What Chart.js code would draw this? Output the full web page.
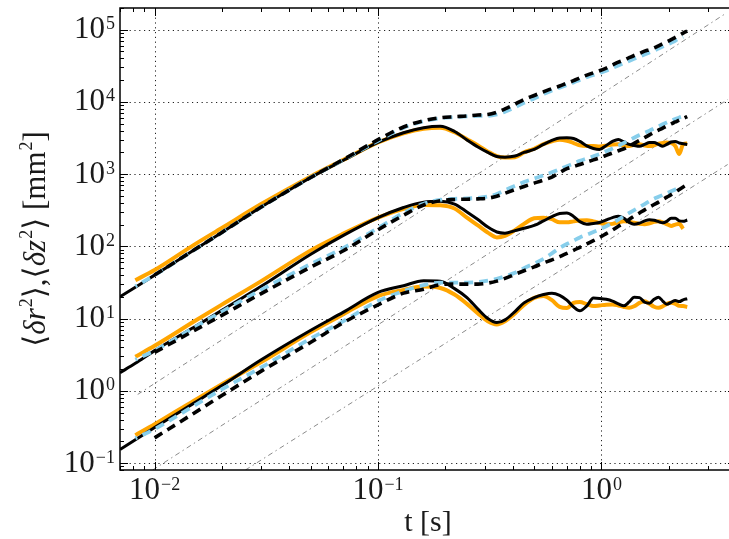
<!DOCTYPE html>
<html><head><meta charset="utf-8">
<script src="https://cdn.jsdelivr.net/npm/chart.js@4.4.1/dist/chart.umd.min.js"></script>
<style>
html,body{margin:0;padding:0;overflow:hidden;background:#fff;width:729px;height:539px}
#wrap{position:absolute;left:0;top:0;width:746px;height:539px}
canvas{display:block}
</style></head><body>
<div id="wrap"><canvas id="c" width="746" height="539"></canvas></div>
<script>
// time grid [s]
const T = [0.007, 0.0082, 0.01, 0.015, 0.02, 0.03, 0.05, 0.07, 0.1,
  0.13, 0.16, 0.19, 0.22, 0.25, 0.28, 0.31, 0.34, 0.37, 0.41,
  0.45, 0.5, 0.55, 0.6, 0.65, 0.7, 0.75, 0.8, 0.86, 0.92,
  0.98, 1.05, 1.12, 1.19, 1.26, 1.33, 1.4, 1.48, 1.56, 1.64,
  1.72, 1.8, 1.88, 1.96, 2.05, 2.14, 2.23, 2.32, 2.42];

// top group (~10^3)
const topSolidBlack = [20, 27.2, 40, 89, 156, 350, 900, 1560, 2750,
  3750, 4400, 4600, 3900, 2980, 2380, 2000, 1760, 1720, 1780,
  2000, 2200, 2580, 2930, 3170, 3190, 3120, 2840, 2460, 2270,
  2200, 2500, 2840, 3030, 2790, 2580, 2500, 2440, 2580, 2750,
  2750, 2580, 2440, 2580, 2790, 2840, 2700, 2640, 2580];
const topSolidOrange = [null, 34, 47, 105, 180, 385, 930, 1580, 2750,
  3680, 4250, 4400, 3800, 3050, 2500, 2050, 1780, 1700, 1720,
  2000, 2250, 2600, 2850, 3000, 2900, 2700, 2500, 2450, 2450,
  2420, 2480, 2580, 2600, 2500, 2450, 2550, 2600, 2500, 2450,
  2520, 2650, 2700, 2750, 2700, 2450, 1900, 2600, 2650];
const topDashBlue = [null, 28, 40, 89, 156, 350, 900, 1580, 2900,
  4400, 5400, 5950, 6150, 6300, 6400, 6400, 6700, 7300, 8400,
  9700, 11200, 12800, 14400, 15800, 17200, 18600, 20200, 22000, 23600,
  25000, 27000, 29500, 32000, 34500, 37000, 39500, 42500, 45500, 48500,
  51500, 55000, 58500, 62000, 66000, 70500, 75500, 80000, null];
const topDashBlack = [null, null, 40, 89, 156, 350, 900, 1600, 3000,
  4500, 5500, 6050, 6250, 6400, 6600, 6700, 7200, 8000, 9300,
  10800, 12300, 13800, 15300, 16600, 18200, 19700, 21500, 23500, 25300,
  27000, 29500, 32500, 35500, 38000, 41000, 44000, 47000, 50500, 53000,
  56000, 60000, 64000, 68000, 73000, 78500, 84000, 90000, 96000];

// middle group (~10^2)
const midSolidBlack = [1.78, 2.4, 3.6, 7.6, 13.0, 28, 78, 142, 250,
  345, 410, 420, 385, 300, 235, 185, 158, 152, 165,
  178, 195, 225, 258, 285, 290, 260, 220, 203, 208,
  214, 232, 250, 262, 245, 215, 202, 210, 225, 234,
  230, 220, 212, 222, 245, 245, 225, 222, 232];
const midSolidOrange = [null, 2.96, 4.2, 9.1, 15.6, 33, 88, 150, 250,
  330, 375, 370, 335, 250, 195, 155, 133, 140, 168,
  205, 245, 250, 238, 215, 215, 222, 228, 230, 222,
  212, 203, 205, 215, 222, 220, 212, 205, 202, 208,
  218, 223, 215, 203, 192, 200, 205, 175, null];
const midDashBlue = [null, 2.7, 3.6, 7.5, 12.5, 25, 57, 95, 180,
  290, 390, 440, 455, 460, 470, 490, 530, 600, 690,
  780, 870, 960, 1060, 1170, 1290, 1400, 1530, 1650, 1770,
  1900, 2080, 2270, 2480, 2700, 2950, 3200, 3480, 3750, 4000,
  4300, 4600, 4900, 5200, 5500, 5800, 6100, 6350, null];
const midDashBlack = [null, null, 3.4, 6.8, 11.1, 22.2, 51.6, 87, 170,
  270, 374, 430, 446, 450, 455, 465, 495, 545, 611,
  676, 752, 828, 912, 1050, 1190, 1275, 1360, 1470, 1575,
  1680, 1820, 1965, 2110, 2250, 2440, 2670, 2940, 3210, 3500,
  3800, 4070, 4350, 4650, 4970, 5280, 5600, 5900, 6270];

// bottom group (~10^1)
const botSolidBlack = [0.154, 0.21, 0.31, 0.675, 1.18, 2.69, 6.9, 12.3, 23,
  28.5, 33.5, 33, 26, 19.5, 13.5, 10, 8.8, 9.6, 12.5,
  16.5, 19.5, 21.5, 22.5, 21, 18, 14.5, 12.8, 15, 19.2,
  19, 18.5, 17.5, 16, 15, 17, 19.8, 19.5, 16.8, 16.3,
  18.5, 19.8, 17.5, 15.8, 16.8, 17.8, 17.2, 18.2, 18.8];
const botSolidOrange = [null, 0.243, 0.343, 0.73, 1.23, 2.5, 6.5, 11.5, 20.5,
  25, 27.8, 26.5, 21.5, 16, 11.8, 9.2, 8.3, 9.2, 11.8,
  15.5, 19.4, 20.5, 18, 14.5, 14, 16.5, 17, 15.8, 14.9,
  15.2, 15.6, 15.7, 15.2, 14.5, 14.1, 14.8, 16.5, 17.4, 16,
  14.6, 14.1, 14.8, 16, 16.6, 16, 15, 14.9, 14.5];
const botDashBlue = [null, 0.22, 0.295, 0.62, 1.05, 2.1, 5.3, 9.2, 17.5,
  24, 29, 31.5, 31.5, 31.5, 32, 33.5, 35.5, 38.5, 43,
  50, 58, 67, 80, 95, 108, 120, 133, 145, 158,
  172, 190, 210, 235, 262, 290, 318, 350, 385, 423,
  455, 485, 515, 545, 580, 615, 650, null, null];
const botDashBlack = [null, null, 0.223, 0.49, 0.86, 1.87, 4.7, 8.8, 15.5,
  22.5, 25.5, 29.5, 30, 30, 30, 31, 33, 36, 41,
  46, 52, 59, 65, 72, 80, 88, 97, 108, 120,
  133, 150, 168, 190, 212, 236, 262, 290, 320, 350,
  380, 410, 445, 480, 520, 565, 615, 665, 720];

// grey dash-dot guide lines (end points)
const guide1T = [0.0084, 3.64], guide1Y = [0.89, 172000];
const guide2T = [0.0098, 3.67], guide2Y = [0.08, 10800];
const guide3T = [0.0255, 3.67], guide3Y = [0.08, 1360];

// axes
const X_MIN = 0.007, X_MAX = 4, Y_MIN = 0.08, Y_MAX = 2e5;
const xTickExps = [-2, -1, 0];
const yTickExps = [-1, 0, 1, 2, 3, 4, 5];
const xTitle = 't [s]';

const SERIF = '"Liberation Serif","DejaVu Serif",serif';
const ORANGE = '#FFA500', SKY = '#87CEEB', BLACK = '#000000', GREY = '#8a8a8a';

const pts = (xs, ys) => xs.map((x, i) => ({x: x, y: ys[i]}));
function line(label, ys, color, width, dash, offset) {
  return {label, data: pts(T, ys), borderColor: color, borderWidth: width,
    borderDash: dash || [], borderDashOffset: offset || 0, pointRadius: 0,
    fill: false, cubicInterpolationMode: 'monotone', spanGaps: false,
    borderCapStyle: 'butt', borderJoinStyle: 'round'};
}
function guide(label, xs, ys) {
  return {label, data: pts(xs, ys), borderColor: GREY, borderWidth: 1,
    borderDash: [5, 3.5, 1.5, 3.5], pointRadius: 0, fill: false, clip: 0};
}

const datasets = [
  line('top dashed black', topDashBlack, BLACK, 3.6, [9, 6], 0),
  line('mid dashed black', midDashBlack, BLACK, 3.6, [9, 6], 0),
  line('bot dashed black', botDashBlack, BLACK, 3.6, [9, 6], 0),
  line('top dashed blue', topDashBlue, SKY, 3.8, [9, 6], 7),
  line('mid dashed blue', midDashBlue, SKY, 3.8, [9, 6], 7),
  line('bot dashed blue', botDashBlue, SKY, 3.8, [9, 6], 7),
  line('top black', topSolidBlack, BLACK, 3),
  line('mid black', midSolidBlack, BLACK, 3),
  line('bot black', botSolidBlack, BLACK, 3),
  line('top orange', topSolidOrange, ORANGE, 4),
  line('mid orange', midSolidOrange, ORANGE, 4),
  line('bot orange', botSolidOrange, ORANGE, 4),
  guide('guide 1', guide1T, guide1Y),
  guide('guide 2', guide2T, guide2Y),
  guide('guide 3', guide3T, guide3Y)
];

function drawPow(ctx, exp, x, y, align) {
  const base = '10', es = exp < 0 ? '\u2212' + (-exp) : String(exp);
  ctx.font = '31px ' + SERIF; const wb = ctx.measureText(base).width;
  ctx.font = '18px ' + SERIF; const we = ctx.measureText(es).width;
  const tot = wb + 1 + we;
  const left = align === 'right' ? x - tot : x - tot / 2;
  ctx.textAlign = 'left'; ctx.textBaseline = 'alphabetic';
  ctx.font = '31px ' + SERIF; ctx.fillText(base, left, y);
  ctx.font = '18px ' + SERIF; ctx.fillText(es, left + wb + 1, y - 9);
}

const axesPlugin = {
  id: 'axesPlugin',
  beforeDatasetsDraw(chart) {
    const {ctx, chartArea: a, scales: {x, y}} = chart;
    ctx.save();
    ctx.strokeStyle = '#222'; ctx.lineWidth = 1; ctx.setLineDash([1.2, 3.6]);
    ctx.beginPath();
    for (const e of xTickExps) { const p = Math.round(x.getPixelForValue(Math.pow(10, e))) + 0.5; ctx.moveTo(p, a.top); ctx.lineTo(p, a.bottom); }
    for (const e of yTickExps) { const p = Math.round(y.getPixelForValue(Math.pow(10, e))) + 0.5; ctx.moveTo(a.left, p); ctx.lineTo(a.right, p); }
    ctx.stroke();
    ctx.restore();
  },
  afterDraw(chart) {
    const {ctx, chartArea: a, scales: {x, y}} = chart;
    ctx.save();
    // ticks
    ctx.strokeStyle = '#000'; ctx.lineWidth = 1; ctx.setLineDash([]);
    ctx.beginPath();
    for (let e = -3; e <= 1; e++) for (let m = 1; m <= 9; m++) {
      const v = m * Math.pow(10, e); if (v < X_MIN || v > X_MAX) continue;
      const p = Math.round(x.getPixelForValue(v)) + 0.5, L = m === 1 ? 8 : 4;
      ctx.moveTo(p, a.bottom); ctx.lineTo(p, a.bottom - L);
      ctx.moveTo(p, a.top); ctx.lineTo(p, a.top + L);
    }
    for (let e = -2; e <= 5; e++) for (let m = 1; m <= 9; m++) {
      const v = m * Math.pow(10, e); if (v < Y_MIN || v > Y_MAX) continue;
      const p = Math.round(y.getPixelForValue(v)) + 0.5, L = m === 1 ? 8 : 4;
      ctx.moveTo(a.left, p); ctx.lineTo(a.left + L, p);
      ctx.moveTo(a.right, p); ctx.lineTo(a.right - L, p);
    }
    ctx.stroke();
    // frame
    ctx.lineWidth = 1.5;
    ctx.strokeRect(a.left, a.top, a.right - a.left, a.bottom - a.top);
    // tick labels
    ctx.fillStyle = '#1a1a1a';
    for (const e of yTickExps) drawPow(ctx, e, a.left - 5, y.getPixelForValue(Math.pow(10, e)) + 8.5, 'right');
    for (const e of xTickExps) drawPow(ctx, e, x.getPixelForValue(Math.pow(10, e)), a.bottom + 28.5, 'center');
    // x title
    ctx.font = '30px ' + SERIF; ctx.textAlign = 'center';
    ctx.fillText(xTitle, (a.left + a.right) / 2, 531);
    // y title
    const segs = [['\u27E8', 'n'], ['\u03B4r', 'i'], ['2', 's'], ['\u27E9,\u27E8', 'n'], ['\u03B4z', 'i'], ['2', 's'], ['\u27E9 [mm', 'n'], ['2', 's'], [']', 'n']];
    const fnt = k => k === 'n' ? '31px ' + SERIF : k === 'i' ? 'italic 31px ' + SERIF : '18px ' + SERIF;
    let tot = 0; const ws = [];
    for (const [t, k] of segs) { ctx.font = fnt(k); const w = ctx.measureText(t).width; ws.push(w); tot += w + (k === 's' ? 1 : 0); }
    ctx.translate(45, (a.top + a.bottom) / 2); ctx.rotate(-Math.PI / 2);
    ctx.textAlign = 'left';
    let cx = -tot / 2;
    segs.forEach(([t, k], i) => { ctx.font = fnt(k); ctx.fillText(t, cx + (k === 's' ? 1 : 0), k === 's' ? -13 : 0); cx += ws[i] + (k === 's' ? 1 : 0); });
    ctx.restore();
  }
};

new Chart(document.getElementById('c'), {
  type: 'line',
  data: {datasets},
  options: {
    responsive: false, animation: false, parsing: true,
    layout: {padding: {left: 120, top: 8, right: 10, bottom: 69}},
    plugins: {legend: {display: false}, tooltip: {enabled: false}},
    scales: {
      x: {type: 'logarithmic', min: X_MIN, max: X_MAX, display: false},
      y: {type: 'logarithmic', min: Y_MIN, max: Y_MAX, display: false}
    }
  },
  plugins: [axesPlugin]
});
</script>
</body></html>
